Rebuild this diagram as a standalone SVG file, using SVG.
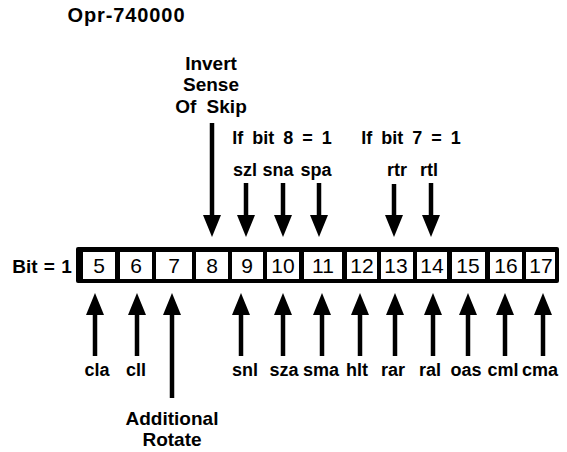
<svg xmlns="http://www.w3.org/2000/svg" width="567" height="452" viewBox="0 0 567 452">
<style>
text{font-family:"Liberation Sans",Arial,sans-serif;fill:#000}
.t{font-size:19px;font-weight:bold;text-anchor:middle}
.l{font-size:18px;font-weight:bold;text-anchor:middle}
.d{font-size:21px;text-anchor:middle}
.cell{fill:#fff}
.sh{stroke:#000;stroke-width:4.5;fill:none}
</style>
<defs>
<marker id="ah" markerUnits="userSpaceOnUse" markerWidth="22" markerHeight="18" refX="4" refY="9" orient="auto">
<path d="M0,0 L22,9 L0,18 z" fill="#000"/>
</marker>
</defs>
<rect width="567" height="452" fill="#fff"/>
<g id="title"><text x="126" y="22" style="font-size:20px;font-weight:bold;text-anchor:middle" textLength="117">Opr-740000</text></g>
<g id="invert"><text class="t" x="211" y="70">Invert</text><text class="t" x="211" y="91">Sense</text><text class="t" x="211" y="113" word-spacing="5">Of Skip</text></g>
<g id="cond8"><text class="l" x="282" y="144" word-spacing="4">If bit 8 = 1</text></g>
<g id="cond7"><text class="l" x="411" y="144" word-spacing="4">If bit 7 = 1</text></g>
<g id="upper-labels">
<text class="l" x="245" y="176">szl</text><text class="l" x="278" y="176">sna</text><text class="l" x="316" y="176">spa</text>
<text class="l" x="397" y="176">rtr</text><text class="l" x="429" y="176">rtl</text>
</g>
<g id="bitlabel"><text x="42" y="273" style="font-size:19px;font-weight:bold;text-anchor:middle" word-spacing="1">Bit = 1</text></g>
<g id="register">
<rect x="76" y="247" width="483" height="36" rx="2" fill="#000"/>
<rect class="cell" x="83" y="252" width="32" height="27"/>
<rect class="cell" x="120" y="252" width="32" height="27"/>
<rect class="cell" x="156" y="252" width="36" height="27"/>
<rect class="cell" x="196" y="252" width="32" height="27"/>
<rect class="cell" x="232" y="252" width="31" height="27"/>
<rect class="cell" x="267" y="252" width="32" height="27"/>
<rect class="cell" x="304" y="252" width="38" height="27"/>
<rect class="cell" x="347" y="252" width="30" height="27"/>
<rect class="cell" x="381" y="252" width="32" height="27"/>
<rect class="cell" x="417" y="252" width="30" height="27"/>
<rect class="cell" x="452" y="252" width="33" height="27"/>
<rect class="cell" x="490" y="252" width="32" height="27"/>
<rect class="cell" x="526" y="252" width="29" height="27"/>
<text class="d" x="99" y="273">5</text><text class="d" x="136" y="273">6</text><text class="d" x="174" y="273">7</text>
<text class="d" x="212" y="273">8</text><text class="d" x="247" y="273">9</text><text class="d" x="283" y="273">10</text>
<text class="d" x="323" y="273">11</text><text class="d" x="362" y="273">12</text><text class="d" x="396" y="273">13</text>
<text class="d" x="432" y="273">14</text><text class="d" x="468" y="273">15</text><text class="d" x="506" y="273">16</text>
<text class="d" x="541" y="273">17</text>
</g>
<g id="lower-labels">
<text class="l" x="97" y="376">cla</text><text class="l" x="136" y="376">cll</text><text class="l" x="245" y="376">snl</text>
<text class="l" x="284" y="376">sza</text><text class="l" x="321" y="376">sma</text><text class="l" x="357" y="376">hlt</text>
<text class="l" x="393" y="376">rar</text><text class="l" x="430" y="376">ral</text><text class="l" x="466" y="376">oas</text>
<text class="l" x="503" y="376">cml</text><text class="l" x="540" y="376">cma</text>
</g>
<g id="additional"><text class="t" x="172" y="425">Additional</text><text class="t" x="172" y="446">Rotate</text></g>
<g id="connectors">
<line class="sh" x1="212" y1="123" x2="212" y2="219" marker-end="url(#ah)"/>
<line class="sh" x1="246" y1="183" x2="246" y2="219" marker-end="url(#ah)"/>
<line class="sh" x1="283" y1="183" x2="283" y2="219" marker-end="url(#ah)"/>
<line class="sh" x1="319" y1="183" x2="319" y2="219" marker-end="url(#ah)"/>
<line class="sh" x1="394" y1="184" x2="394" y2="219" marker-end="url(#ah)"/>
<line class="sh" x1="431" y1="183" x2="431" y2="219" marker-end="url(#ah)"/>
<line class="sh" x1="95" y1="356" x2="95" y2="311" marker-end="url(#ah)"/>
<line class="sh" x1="137" y1="356" x2="137" y2="311" marker-end="url(#ah)"/>
<line class="sh" x1="172" y1="398" x2="172" y2="311" marker-end="url(#ah)"/>
<line class="sh" x1="241" y1="356" x2="241" y2="311" marker-end="url(#ah)"/>
<line class="sh" x1="283" y1="356" x2="283" y2="311" marker-end="url(#ah)"/>
<line class="sh" x1="322" y1="356" x2="322" y2="311" marker-end="url(#ah)"/>
<line class="sh" x1="360" y1="356" x2="360" y2="311" marker-end="url(#ah)"/>
<line class="sh" x1="395" y1="356" x2="395" y2="311" marker-end="url(#ah)"/>
<line class="sh" x1="433" y1="356" x2="433" y2="311" marker-end="url(#ah)"/>
<line class="sh" x1="468" y1="356" x2="468" y2="311" marker-end="url(#ah)"/>
<line class="sh" x1="505" y1="356" x2="505" y2="311" marker-end="url(#ah)"/>
<line class="sh" x1="543" y1="356" x2="543" y2="311" marker-end="url(#ah)"/>
</g>
</svg>
